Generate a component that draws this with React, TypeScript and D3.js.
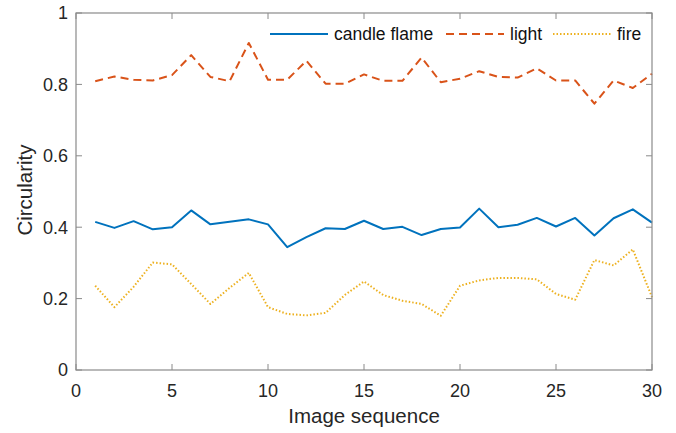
import * as React from "react";
import * as d3 from "d3";

const frames = d3.range(1, 31);

const candleFlame = [
  0.415, 0.398, 0.417, 0.394, 0.4, 0.447, 0.408, 0.415, 0.422, 0.408,
  0.344, 0.372, 0.397, 0.395, 0.418, 0.395, 0.401, 0.378, 0.395, 0.399,
  0.452, 0.4, 0.407, 0.426, 0.402, 0.426, 0.377, 0.425, 0.45, 0.413,
];

const light = [
  0.809, 0.822, 0.813, 0.811, 0.826, 0.882, 0.821, 0.809, 0.916, 0.813,
  0.813, 0.866, 0.802, 0.802, 0.828, 0.81, 0.81, 0.875, 0.806, 0.816,
  0.837, 0.821, 0.819, 0.845, 0.811, 0.811, 0.746, 0.811, 0.79, 0.83,
];

const fire = [
  0.236, 0.176, 0.233, 0.301, 0.296, 0.241, 0.185, 0.23, 0.272, 0.176,
  0.157, 0.153, 0.16, 0.21, 0.248, 0.21, 0.194, 0.185, 0.152, 0.236,
  0.251, 0.258, 0.258, 0.254, 0.213, 0.197, 0.308, 0.293, 0.338, 0.204,
];

const xTicks = [0, 5, 10, 15, 20, 25, 30];
const yTicks = [0, 0.2, 0.4, 0.6, 0.8, 1];

const SERIES = [
  { id: "candle flame", values: candleFlame, color: "#0072BD", dash: undefined as string | undefined, width: 2 },
  { id: "light", values: light, color: "#D95319", dash: "8 5", width: 2 },
  { id: "fire", values: fire, color: "#EDB120", dash: "1.5 2", width: 2 },
];

const W = 676;
const H = 433;
const MARGIN = { top: 13, right: 24, bottom: 63, left: 76 };
const FONT = "'Liberation Sans', Arial, Helvetica, sans-serif";
const AXIS = "#8a8a8a";
const TEXT = "#262626";

export default function App() {
  const innerW = W - MARGIN.left - MARGIN.right;
  const innerH = H - MARGIN.top - MARGIN.bottom;

  const x = d3.scaleLinear().domain([0, 30]).range([0, innerW]);
  const y = d3.scaleLinear().domain([0, 1]).range([innerH, 0]);

  const line = d3
    .line<number>()
    .x((_, i) => x(frames[i]))
    .y((v) => y(v));

  // legend layout (top right, no box)
  const legendY = 21;
  const legendStarts = [194, 370, 477];

  return (
    <div style={{ position: "fixed", left: 0, top: 0, background: "#fff" }}>
      <svg width={W} height={H} style={{ display: "block", fontFamily: FONT }}>
        <rect width={W} height={H} fill="#fff" />
        <g transform={`translate(${MARGIN.left},${MARGIN.top})`}>
          {/* Series */}
          {SERIES.map((s) => (
            <path
              key={s.id}
              d={line(s.values) ?? ""}
              fill="none"
              stroke={s.color}
              strokeWidth={s.width}
              strokeDasharray={s.dash}
              strokeLinejoin="round"
            />
          ))}

          {/* Box */}
          <rect x={0} y={0} width={innerW} height={innerH} fill="none" stroke={AXIS} strokeWidth={1.2} />

          {/* X ticks (bottom and top, inward) */}
          {xTicks.map((t) => (
            <g key={`xt-${t}`}>
              <line x1={x(t)} x2={x(t)} y1={innerH} y2={innerH - 6} stroke={AXIS} />
              <line x1={x(t)} x2={x(t)} y1={0} y2={6} stroke={AXIS} />
              <text x={x(t)} y={innerH + 27} textAnchor="middle" fontSize={18} fill={TEXT}>
                {t}
              </text>
            </g>
          ))}

          {/* Y ticks (left and right, inward) */}
          {yTicks.map((t) => (
            <g key={`yt-${t}`}>
              <line x1={0} x2={6} y1={y(t)} y2={y(t)} stroke={AXIS} />
              <line x1={innerW} x2={innerW - 6} y1={y(t)} y2={y(t)} stroke={AXIS} />
              <text x={-8} y={y(t)} dy="0.35em" textAnchor="end" fontSize={18} fill={TEXT}>
                {t}
              </text>
            </g>
          ))}

          {/* Axis labels */}
          <text x={innerW / 2} y={innerH + 53} textAnchor="middle" fontSize={20.5} fill={TEXT}>
            Image sequence
          </text>
          <text
            transform={`translate(${-44},${177}) rotate(-90)`}
            textAnchor="middle"
            fontSize={20.5}
            fill={TEXT}
          >
            Circularity
          </text>

          {/* Legend */}
          {SERIES.map((s, i) => (
            <g key={`lg-${s.id}`}>
              <line
                x1={legendStarts[i]}
                x2={legendStarts[i] + 58}
                y1={legendY}
                y2={legendY}
                stroke={s.color}
                strokeWidth={s.width}
                strokeDasharray={s.dash}
              />
              <text x={legendStarts[i] + 64} y={legendY} dy="0.35em" fontSize={17.5} fill="#111">
                {s.id}
              </text>
            </g>
          ))}
        </g>
      </svg>
    </div>
  );
}
